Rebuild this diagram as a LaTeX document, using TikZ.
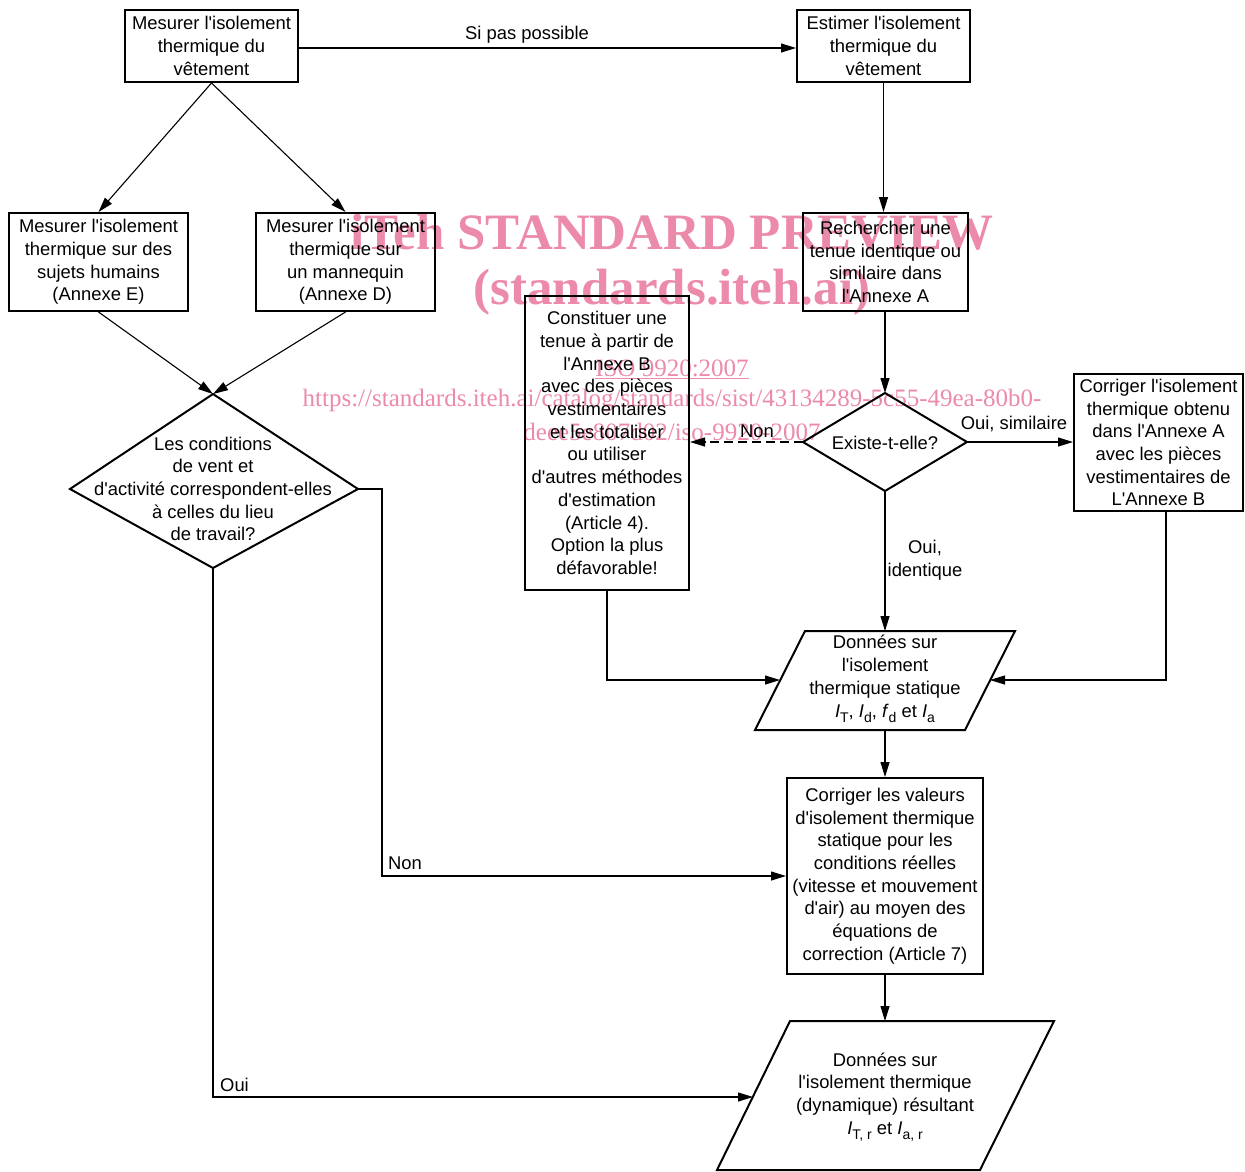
\documentclass[tikz,border=0pt]{standalone}
\usepackage{fontspec}
\newfontfamily\diagfont{Liberation Sans}
\newfontfamily\wmfont{Liberation Serif}
\usetikzlibrary{arrows.meta}
\newcommand{\mysub}[1]{\raisebox{-0.55ex}{\fontsize{14}{14}\selectfont #1}}
\definecolor{wmpink}{RGB}{236,138,170}
\begin{document}
\begin{tikzpicture}[x=1pt,y=-1pt,
  every node/.style={font=\diagfont\fontsize{18.4}{22.7}\selectfont, inner sep=0pt, align=center},
  box/.style={draw, line width=2pt, rectangle},
  shapeline/.style={line width=2pt, line join=miter},
  conn/.style={line width=1.1pt, -{Triangle[length=15pt,width=9pt]}},
  dashconn/.style={conn, dash pattern=on 9pt off 5pt},
  wmbig/.style={text=wmpink, font=\wmfont\bfseries\fontsize{51}{51}\selectfont},
  wmsmall/.style={text=wmpink, font=\wmfont\fontsize{25}{25}\selectfont}
]
\useasboundingbox (0,0) rectangle (1245,1171);

% watermark (behind)
\node[wmbig] (w1) at (672,232) {iTeh STANDARD PREVIEW};
\node[wmbig] (w2) at (672,292) {(standards.iteh.ai)};
\node[wmsmall] (w3) at (672,369) {\underline{ISO 9920:2007}};
\node[wmsmall] (w4) at (672,401) {https://standards.iteh.ai/catalog/standards/sist/43134289-5c55-49ea-80b0-};
\node[wmsmall] (w5) at (672,432) {deee5e807d02/iso-9920-2007};

% boxes
\node[box, minimum width=173pt, minimum height=72pt] (A) at (211.5,46) {Mesurer l'isolement\\thermique du\\vêtement};
\node[box, minimum width=173pt, minimum height=72pt] (B) at (883.5,46) {Estimer l'isolement\\thermique du\\vêtement};
\node[box, minimum width=179pt, minimum height=98pt] (C) at (98.5,262) {Mesurer l'isolement\\thermique sur des\\sujets humains\\(Annexe E)};
\node[box, minimum width=179pt, minimum height=98pt] (D) at (345.5,262) {Mesurer l'isolement\\thermique sur\\un mannequin\\(Annexe D)};
\node[box, minimum width=165pt, minimum height=98pt] (E) at (885.5,262) {Rechercher une\\tenue identique ou\\similaire dans\\l'Annexe A};
\node[box, minimum width=164pt, minimum height=294pt] (F) at (607,443) {Constituer une\\tenue à partir de\\l'Annexe B\\avec des pièces\\vestimentaires\\et les totaliser\\ou utiliser\\d'autres méthodes\\d'estimation\\(Article 4).\\Option la plus\\défavorable!};
\node[box, minimum width=169pt, minimum height=137pt] (H) at (1158.5,442.5) {Corriger l'isolement\\thermique obtenu\\dans l'Annexe A\\avec les pièces\\vestimentaires de\\L'Annexe B};
\node[box, minimum width=196pt, minimum height=196pt] (K) at (885,876) {Corriger les valeurs\\d'isolement thermique\\statique pour les\\conditions réelles\\(vitesse et mouvement\\d'air) au moyen des\\équations de\\correction (Article 7)};

% diamond G
\coordinate (Gt) at (885,393);
\coordinate (Gr) at (967,442);
\coordinate (Gb) at (885,491);
\coordinate (Gl) at (803,442);
\draw[shapeline] (Gt) -- (Gr) -- (Gb) -- (Gl) -- cycle;
\node (G) at (885,443) {Existe-t-elle?};

% diamond I
\coordinate (It) at (213,394);
\coordinate (Ir) at (358,489);
\coordinate (Ib) at (213,568);
\coordinate (Il) at (70,489);
\draw[shapeline] (It) -- (Ir) -- (Ib) -- (Il) -- cycle;
\node (I) at (213,489) {Les conditions\\de vent et\\d'activité correspondent-elles\\à celles du lieu\\de travail?};

% parallelogram J
\coordinate (Jt) at (885,631);
\coordinate (Jb) at (885,730);
\coordinate (Jl) at (780,680);
\coordinate (Jr) at (990,680);
\draw[shapeline] (805,631) -- (1015,631) -- (965,730) -- (755,730) -- cycle;
\node (J) at (885,679) {Données sur\\l'isolement\\thermique statique\\\textit{I}\mysub{T}, \textit{I}\mysub{d}, \textit{f}\mysub{d} et \textit{I}\mysub{a}};

% parallelogram L
\coordinate (Lt) at (885,1021);
\coordinate (Ll) at (753,1097);
\draw[shapeline] (790,1021) -- (1054,1021) -- (980,1170) -- (717,1170) -- cycle;
\node (L) at (885,1097) {Données sur\\l'isolement thermique\\(dynamique) résultant\\\textit{I}\mysub{T, r} et \textit{I}\mysub{a, r}};

% connectors
\draw[conn] ([yshift=-2pt]A.east) -- ([yshift=-2pt]B.west);
\node (lsp) at (527,35) {Si pas possible};
\draw[conn] (A.south) -- (C.north);
\draw[conn] (A.south) -- (D.north);
\draw[conn] (B.south) -- (B.south |- E.north);
\draw[conn] (Gt |- E.south) -- (Gt);
\draw[conn] (C.south) -- (It);
\draw[conn] (D.south) -- (It);
\draw[dashconn] (Gl) -- (F.east |- Gl);
\node (lnon1) at (757,431) {Non};
\draw[conn] (Gr) -- (H.west |- Gr);
\node (lsim) at (1014,424) {Oui, similaire};
\draw[conn] (Gb) -- (Jt);
\node (lid) at (925,560) {Oui,\\identique};
\draw[conn] (F.south) |- (Jl);
\draw[conn] ([xshift=7.5pt]H.south) |- (Jr);
\draw[conn] (Jb) -- (K.north);
\draw[conn] (K.south) -- (Lt);
\draw[conn] (Ir) -- (382,489) |- (K.west);
\node[anchor=west] (lnon2) at (388,863) {Non};
\draw[conn] (Ib) |- (Ll);
\node[anchor=west] (loui) at (220,1085) {Oui};
\end{tikzpicture}
\end{document}
